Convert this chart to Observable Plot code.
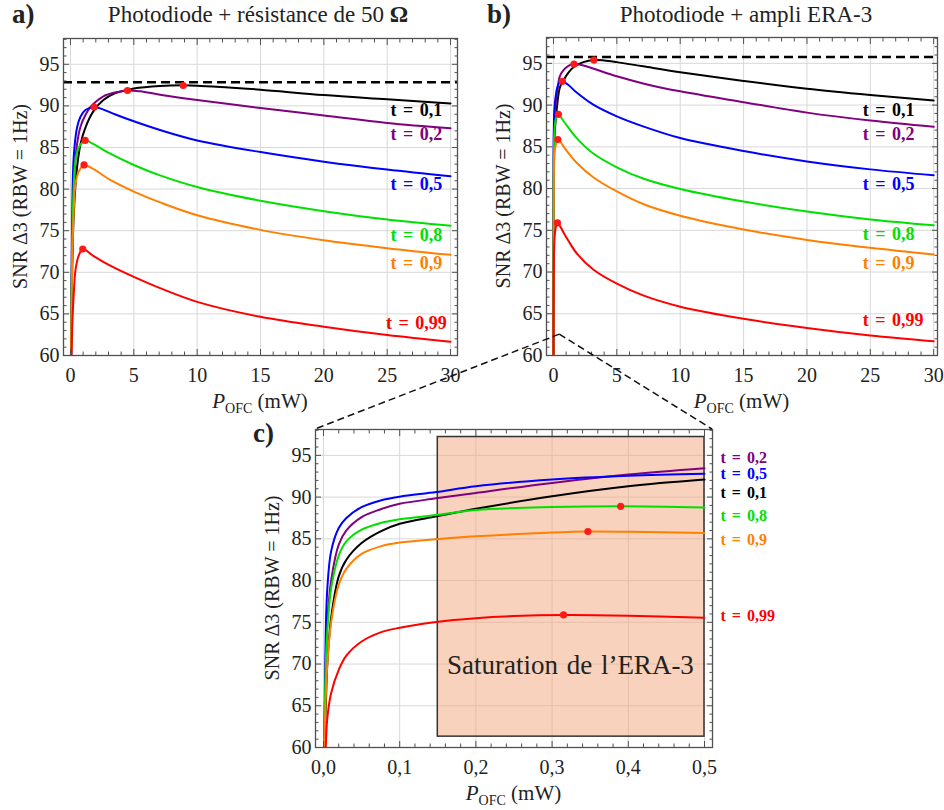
<!DOCTYPE html>
<html><head><meta charset="utf-8">
<script src="https://cdn.jsdelivr.net/npm/d3@7"></script>
<script src="https://cdn.jsdelivr.net/npm/@observablehq/plot@0.6"></script>
<style>
body{margin:0;background:#fff;}
#root{position:relative;width:944px;height:810px;overflow:hidden;background:#fff;}
#root svg{position:absolute;}
#root svg, #root svg text, #root svg tspan{font-family:"Liberation Serif","Times New Roman","DejaVu Serif",serif !important;}
g[aria-label="text"] text{word-spacing:2px;}
</style></head><body><div id="root"></div>
<script>
// ---------- DATA ----------
const seriesNames = ["t = 0,1","t = 0,2","t = 0,5","t = 0,8","t = 0,9","t = 0,99"];

// Panel a) Photodiode + résistance de 50 Ω  — [P (mW), SNR (dB)]
const a_t01  = [[0.05,60],[0.13,69.8],[0.26,77],[0.52,82.6],[0.79,85.4],[1.18,87.4],[1.83,89.4],[2.6,90.7],[3.5,91.5],[4.45,91.9],[5,92.1],[7.07,92.4],[8.9,92.47],[10,92.43],[12.5,92.2],[15,91.95],[20,91.3],[25,90.8],[30,90.3]];
const a_t02  = [[0.05,60],[0.13,72],[0.26,80.6],[0.52,85.4],[0.79,87.5],[1.18,88.9],[1.57,89.85],[2.0,90.5],[2.6,91.15],[3.5,91.6],[4.5,91.85],[5.5,91.75],[7.07,91.35],[10,90.7],[15,89.75],[20,88.85],[25,87.95],[30,87.3]];
const a_t05  = [[0.05,60],[0.13,76],[0.26,83.9],[0.52,87.4],[0.79,88.7],[1.18,89.5],[1.87,89.87],[2.6,89.55],[3.5,89.0],[5,88.15],[7.07,87.1],[10,85.85],[15,84.45],[20,83.3],[25,82.35],[30,81.55]];
const a_t08  = [[0.05,60],[0.13,73],[0.26,80.5],[0.39,83.4],[0.65,85.0],[1.16,85.85],[1.83,85.4],[3.14,84.25],[5,82.9],[7.07,81.65],[10,80.25],[15,78.6],[20,77.35],[25,76.35],[30,75.6]];
const a_t09  = [[0.05,60],[0.13,71],[0.26,77.5],[0.39,80.6],[0.65,82.1],[1.07,82.9],[1.83,82.4],[3.14,81.1],[5,79.7],[7.07,78.4],[10,76.85],[15,75.1],[20,73.85],[25,72.9],[30,72.1]];
const a_t099 = [[0.08,60],[0.15,64],[0.26,67.4],[0.39,70.2],[0.65,72.0],[0.97,72.8],[1.83,71.95],[3.14,70.8],[5,69.45],[7.07,68.1],[10,66.45],[15,64.65],[20,63.45],[25,62.45],[30,61.65]];
const a_peakX = [8.9, 4.5, 1.87, 1.16, 1.07, 0.97];
const a_peakY = [92.45, 91.85, 89.87, 85.85, 82.9, 72.8];
const a_limit = 92.85;

// Panel b) Photodiode + ampli ERA-3
const b_t01  = [[0.001,60],[0.01,75.5],[0.05,84.5],[0.1,86.8],[0.2,88.6],[0.3,90.1],[0.5,92.1],[0.8,93.0],[1.18,93.9],[1.62,94.6],[2.36,95.15],[3.19,95.4],[4,95.35],[5,95.15],[7.07,94.65],[10,93.95],[15,92.9],[20,91.95],[25,91.2],[30,90.55]];
const b_t02  = [[0.001,60],[0.01,80],[0.05,87.6],[0.1,89.2],[0.2,90.5],[0.3,91.7],[0.5,93.45],[0.79,94.2],[1.18,94.7],[1.62,94.92],[2.36,94.75],[3.19,94.35],[5,93.45],[7.07,92.6],[10,91.65],[15,90.35],[20,89.1],[25,88.15],[30,87.4]];
const b_t05  = [[0.001,60],[0.01,83.5],[0.05,88.8],[0.1,90.05],[0.2,91.3],[0.3,92.1],[0.5,92.8],[0.71,92.85],[1.18,92.4],[1.83,91.5],[3.14,90.05],[5,88.65],[7.07,87.45],[10,86.05],[15,84.5],[20,83.25],[25,82.3],[30,81.6]];
const b_t08  = [[0.001,60],[0.01,79],[0.05,86.1],[0.1,87.35],[0.2,88.45],[0.39,88.9],[0.5,88.75],[0.79,88.1],[1.18,87.3],[1.83,86.05],[3.14,84.2],[5,82.55],[7.07,81.2],[10,79.95],[15,78.45],[20,77.25],[25,76.3],[30,75.6]];
const b_t09  = [[0.001,60],[0.01,75],[0.05,83.2],[0.1,84.55],[0.2,85.3],[0.347,85.88],[0.5,85.7],[0.79,85.05],[1.18,84.25],[1.83,83.1],[3.14,81.35],[5,79.65],[7.07,78.15],[10,76.75],[15,75.1],[20,73.85],[25,72.9],[30,72.1]];
const b_t099 = [[0.003,60],[0.01,66.5],[0.05,72.7],[0.1,74.35],[0.2,75.5],[0.315,75.88],[0.5,75.55],[0.79,74.75],[1.18,73.75],[1.83,72.25],[3.14,70.3],[5,68.6],[7.07,67.2],[10,65.85],[15,64.4],[20,63.3],[25,62.4],[30,61.7]];
const b_peakX = [3.19, 1.62, 0.71, 0.39, 0.347, 0.315];
const b_peakY = [95.4, 94.92, 92.85, 88.9, 85.88, 75.88];
const b_limit = 95.75;

// Panel c) zoom 0–0.5 mW
const c_t01  = [[0.001,60],[0.003,65],[0.005,70],[0.01,75.5],[0.02,80.5],[0.03,82.5],[0.05,84.5],[0.075,85.9],[0.1,86.8],[0.148,87.7],[0.2,88.6],[0.3,90.1],[0.4,91.3],[0.5,92.1]];
const c_t02  = [[0.001,60],[0.003,70],[0.005,75],[0.01,80],[0.02,84.3],[0.03,86.0],[0.05,87.6],[0.075,88.55],[0.1,89.2],[0.148,89.85],[0.2,90.5],[0.3,91.7],[0.4,92.7],[0.5,93.45]];
const c_t05  = [[0.001,60],[0.003,74],[0.005,79],[0.01,83.5],[0.02,86.3],[0.03,87.5],[0.05,88.8],[0.075,89.6],[0.1,90.05],[0.148,90.6],[0.2,91.3],[0.3,92.1],[0.4,92.55],[0.5,92.8]];
const c_t08  = [[0.001,60],[0.003,70],[0.005,74],[0.01,79],[0.02,83],[0.03,84.7],[0.05,86.1],[0.075,86.9],[0.1,87.35],[0.148,87.85],[0.2,88.45],[0.3,88.8],[0.39,88.9],[0.5,88.75]];
const c_t09  = [[0.001,60],[0.003,66],[0.005,70],[0.01,75],[0.02,79.5],[0.03,81.4],[0.05,83.2],[0.075,84.1],[0.1,84.55],[0.148,84.95],[0.2,85.3],[0.3,85.75],[0.347,85.88],[0.4,85.85],[0.5,85.7]];
const c_t099 = [[0.003,60],[0.005,63.5],[0.01,66.5],[0.02,69.3],[0.03,71],[0.05,72.7],[0.075,73.8],[0.1,74.35],[0.148,75.05],[0.2,75.5],[0.25,75.75],[0.315,75.88],[0.4,75.8],[0.5,75.55]];
const c_peakX = [0.39, 0.347, 0.315];
const c_peakY = [88.9, 85.88, 75.88];
const c_satX = [0.15, 0.5];
const c_satY = [61.3, 97.2];
const c_satText = "Saturation de l’ERA-3";

// Tick values and texts
const xTicksAB = [0, 5, 10, 15, 20, 25, 30];
const xTicksC = [0, 0.1, 0.2, 0.3, 0.4, 0.5];
const yTicks = [60, 65, 70, 75, 80, 85, 90, 95];
const titleA = "Photodiode + résistance de 50 ";
const titleAOmega = "Ω";
const titleB = "Photodiode + ampli ERA-3";
const yLabel = "SNR Δ3 (RBW = 1Hz)";

// ---------- RENDER ----------
const FONT = '"Liberation Serif", "Times New Roman", "DejaVu Serif", serif';
const colors = ["#000000", "#800080", "#0000ff", "#00e000", "#ff8000", "#ff0000"];
const frameCol = "#505050";
const root = document.getElementById("root");

function toRows(arrs) {
  return arrs.flatMap((arr, i) => arr.map(([x, y]) => ({x, y, series: seriesNames[i]})));
}
function inward(dir, vals, size) {
  const o = {anchor: dir, tickSize: -size, fill: "none", stroke: frameCol, label: null};
  return (dir === "top" || dir === "bottom") ? Plot.axisX(vals, o) : Plot.axisY(vals, o);
}

function makePanel(o) {
  const rows = toRows(o.series);
  const peaks = o.peaksX.map((x, i) => ({x, y: o.peaksY[i]}));
  const labels = o.labelOrder.map((si, i) => ({series: seriesNames[si], x: o.labelX, y: o.labelY[i]}));
  const yMinor = d3.range(60, 99, 1).filter(v => v % 5 !== 0);
  const fw = o.width - o.ml - o.mr;
  const fh = o.height - o.mt - o.mb;
  const marks = [
    Plot.ruleX(o.xMajor, {stroke: "#d8d8d8", strokeWidth: 1}),
    Plot.ruleY(yTicks, {stroke: "#d8d8d8", strokeWidth: 1}),
    ...(o.below || []),
    o.limit != null ? Plot.ruleY([o.limit], {stroke: "#000", strokeWidth: 2.5, strokeDasharray: "9,5"}) : null,
    Plot.line(rows, {x: "x", y: "y", z: "series", stroke: "series", curve: "catmull-rom", strokeWidth: 2, clip: true}),
    Plot.dot(peaks, {x: "x", y: "y", fill: "#ff1a1a", r: 3.6}),
    Plot.text(labels, {x: "x", y: "y", text: "series", fill: "series", fontWeight: "bold", fontFamily: FONT, fontSize: o.labelSize, textAnchor: o.labelAnchor}),
    ...(o.above || []),
    Plot.frame({stroke: frameCol, strokeWidth: 1.3}),
    inward("bottom", o.xMajor, 6), inward("bottom", o.xMinor, 3.5),
    inward("top", o.xMajor, 6), inward("top", o.xMinor, 3.5),
    inward("left", yTicks, 6), inward("left", yMinor, 3.5),
    inward("right", yTicks, 6), inward("right", yMinor, 3.5),
    Plot.axisX(o.xMajor, {anchor: "bottom", tickSize: 0, tickPadding: 12, fontSize: 20, fontFamily: FONT, tickFormat: o.fmt, label: null, fill: "#222"}),
    Plot.axisY(yTicks, {anchor: "left", tickSize: 0, tickPadding: 4, fontSize: 20, fontFamily: FONT, label: null, fill: "#222"})
  ].filter(Boolean);
  const svg = Plot.plot({
    width: o.width, height: o.height,
    marginLeft: o.ml, marginRight: o.mr, marginTop: o.mt, marginBottom: o.mb,
    x: {domain: o.xDomain},
    y: {domain: [60, 98.1]},
    color: {domain: seriesNames, range: colors},
    style: {fontFamily: FONT, background: "transparent", overflow: "visible"},
    marks
  });
  svg.style.left = o.left + "px";
  svg.style.top = o.top + "px";
  const s = d3.select(svg).attr("font-family", FONT);
  s.append("text")
    .attr("transform", `translate(${o.ml - 43},${o.mt + fh / 2}) rotate(-90)`)
    .attr("text-anchor", "middle").attr("dy", "0.35em").attr("font-family", FONT)
    .attr("font-size", 20).attr("fill", "#222").text(yLabel);
  const xl = s.append("text")
    .attr("x", o.ml + fw / 2).attr("y", o.mt + fh + 53).attr("font-family", FONT)
    .attr("text-anchor", "middle").attr("font-size", 21).attr("fill", "#222");
  xl.append("tspan").attr("font-style", "italic").text("P");
  xl.append("tspan").attr("font-size", 14).attr("dy", 5).text("OFC");
  xl.append("tspan").attr("dy", -5).text(" (mW)");
  root.appendChild(svg);
  return svg;
}

const intFmt = d => String(d);
const commaFmt = d => d3.format(".1f")(d).replace(".", ",");

const pa = makePanel({
  left: 0, top: 0, width: 470, height: 420, ml: 63, mr: 13, mt: 38, mb: 65,
  xDomain: [-0.55, 30.55], xMajor: xTicksAB, xMinor: d3.range(0, 31).filter(v => v % 5),
  fmt: intFmt,
  series: [a_t01, a_t02, a_t05, a_t08, a_t09, a_t099],
  peaksX: a_peakX, peaksY: a_peakY, limit: a_limit,
  labelOrder: [0, 1, 2, 3, 4, 5], labelX: 27.3, labelAnchor: "middle", labelSize: 18,
  labelY: [89.45, 86.55, 80.6, 74.45, 71.1, 63.85]
});

const pb = makePanel({
  left: 483, top: 0, width: 461, height: 420, ml: 63, mr: 7, mt: 37, mb: 65,
  xDomain: [-0.55, 30.3], xMajor: xTicksAB, xMinor: d3.range(0, 31).filter(v => v % 5),
  fmt: intFmt,
  series: [b_t01, b_t02, b_t05, b_t08, b_t09, b_t099],
  peaksX: b_peakX, peaksY: b_peakY, limit: b_limit,
  labelOrder: [0, 1, 2, 3, 4, 5], labelX: 24.4, labelAnchor: "start", labelSize: 18,
  labelY: [89.43, 86.5, 80.5, 74.5, 71.06, 64.2]
});

const satRect = [{x1: c_satX[0], x2: c_satX[1], y1: c_satY[0], y2: c_satY[1]}];
const pc = makePanel({
  left: 250, top: 400, width: 544, height: 410, ml: 65, mr: 82, mt: 29, mb: 63,
  xDomain: [-0.0105, 0.5105], xMajor: xTicksC,
  xMinor: d3.range(0, 26).filter(v => v % 5).map(v => v * 0.02),
  fmt: commaFmt,
  series: [c_t01, c_t02, c_t05, c_t08, c_t09, c_t099],
  peaksX: c_peakX, peaksY: c_peakY, limit: null,
  labelOrder: [1, 2, 0, 3, 4, 5], labelX: 0.521, labelAnchor: "start", labelSize: 16,
  labelY: [94.75, 92.8, 90.45, 87.7, 84.9, 75.8],
  below: [Plot.rect(satRect, {x1: "x1", x2: "x2", y1: "y1", y2: "y2", fill: "#f2a67a", fillOpacity: 0.5, stroke: "#333", strokeWidth: 1.5})],
  above: [Plot.text([{x: 0.324, y: 69.8, t: c_satText}], {x: "x", y: "y", text: "t", fontSize: 27, fontFamily: FONT, fill: "#222"})]
});

// overlay: titles and zoom connectors
const ov = d3.create("svg").attr("width", 944).attr("height", 810)
  .style("left", "0px").style("top", "0px").style("pointer-events", "none")
  .attr("font-family", FONT).style("font-family", FONT);
ov.append("text").attr("x", 12).attr("y", 23).attr("font-size", 27).attr("font-weight", "bold").attr("fill", "#222").text("a)");
const ta = ov.append("text").attr("x", 258).attr("y", 22).attr("font-size", 23).attr("text-anchor", "middle").attr("fill", "#222");
ta.append("tspan").text(titleA);
ta.append("tspan").attr("font-weight", "bold").text(titleAOmega);
ov.append("text").attr("x", 487).attr("y", 23).attr("font-size", 27).attr("font-weight", "bold").attr("fill", "#222").text("b)");
ov.append("text").attr("x", 746).attr("y", 22).attr("font-size", 23).attr("text-anchor", "middle").attr("fill", "#222").text(titleB);
ov.append("text").attr("x", 253).attr("y", 442).attr("font-size", 27).attr("font-weight", "bold").attr("fill", "#222").text("c)");

const bx = pb.scale("x"), by = pb.scale("y"), cx = pc.scale("x"), cy = pc.scale("y");
const apex = [483 + bx.apply(0.5), 0 + by.apply(62.5)];
const cTop = 400 + cy.apply(98.1);
const cLeft = 250 + cx.apply(-0.0105), cRight = 250 + cx.apply(0.5105);
[[cLeft, cTop], [cRight, cTop]].forEach(([x, y]) => {
  ov.append("line").attr("x1", apex[0]).attr("y1", apex[1]).attr("x2", x).attr("y2", y)
    .attr("stroke", "#111").attr("stroke-width", 1.5).attr("stroke-dasharray", "7,4");
});
root.appendChild(ov.node());
</script></body></html>
